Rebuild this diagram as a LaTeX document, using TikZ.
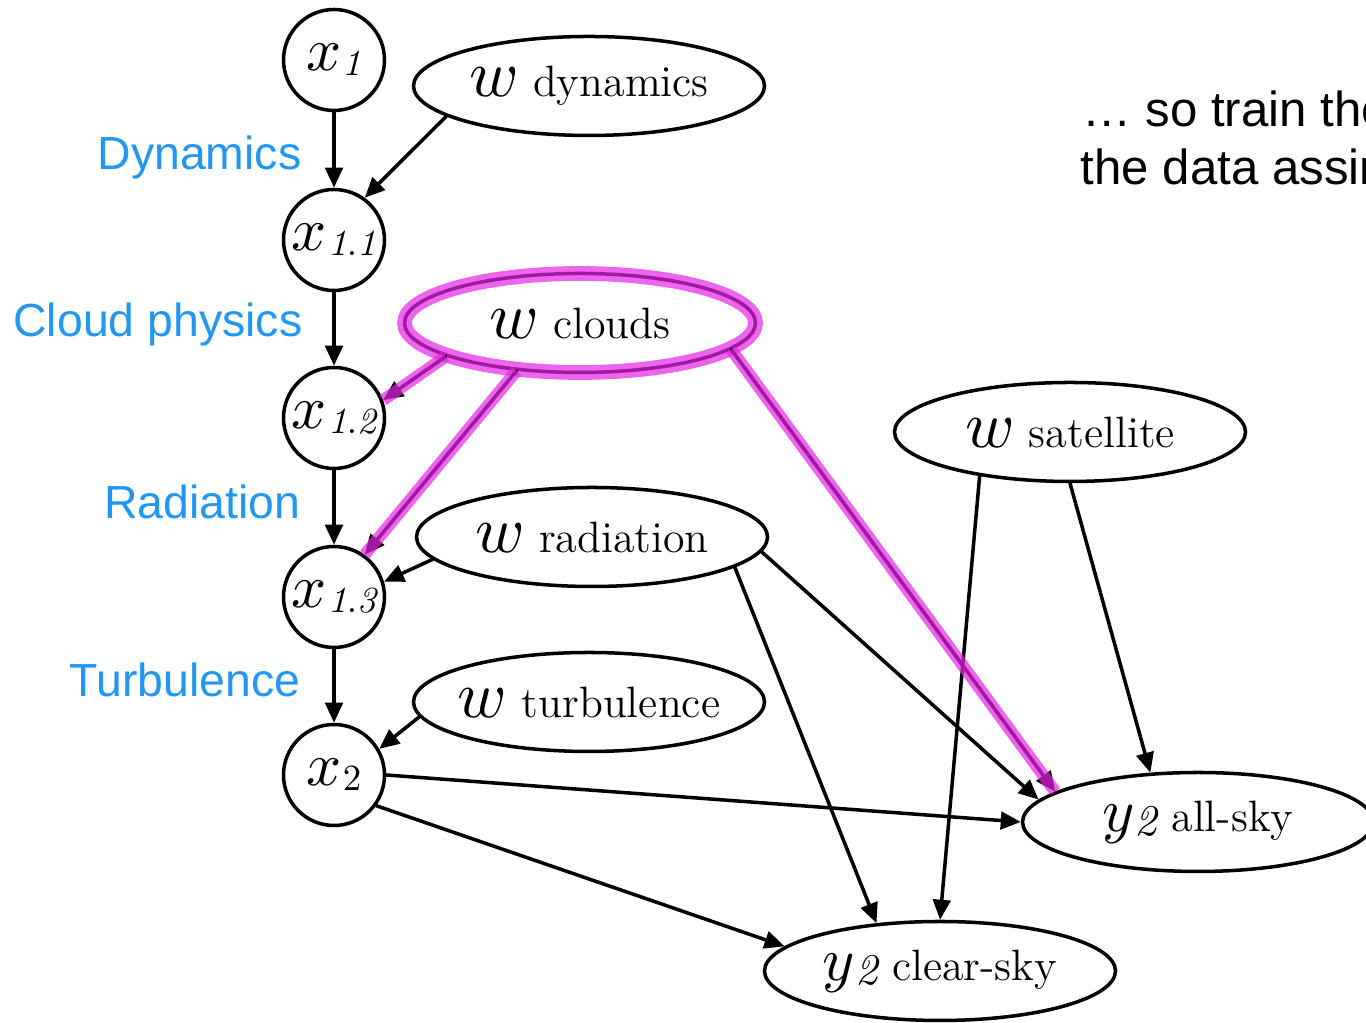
\documentclass[tikz,border=0pt]{standalone}
\usepackage{amsmath,amssymb}
\usepackage{graphicx}
\usepackage{fontspec}
\usepackage{tikz}
\usetikzlibrary{arrows.meta,shapes.geometric}
\usepackage{xcolor}
\newfontfamily\labelfont{Liberation Sans}
\definecolor{phaseblue}{RGB}{33,150,243}
\definecolor{hlmagenta}{RGB}{228,36,228}
\newcommand{\xlab}[1]{\scalebox{1.75}{$x$}\kern0.3pt\raisebox{-0.35ex}{\scalebox{1.05}{$#1$}}}
\newcommand{\wlab}[1]{\makebox[0pt]{\scalebox{1.9}{$w$}{\fontsize{12.5}{14}\selectfont\ #1}}}
\newcommand{\ylab}[1]{\makebox[0pt]{\scalebox{1.75}{$y$}\raisebox{-0.3ex}{\scalebox{1.25}{$\mathit{2}$}}{\fontsize{12.5}{14}\selectfont\ #1}}}

\begin{document}
\begin{tikzpicture}[>={Triangle[length=2mm,width=1.75mm]},line cap=round,
  var/.style={circle,draw,line width=1pt,minimum size=1.01cm,inner sep=0pt},
  wnode/.style={ellipse,draw,line width=1pt,minimum width=3.51cm,minimum height=0.99cm,inner sep=0pt},
  phase/.style={anchor=base east,inner sep=0pt,text=phaseblue,font=\labelfont\fontsize{13.2}{15}\selectfont},
  note/.style={anchor=base west,inner sep=0pt,font=\labelfont\fontsize{14}{16}\selectfont},
  edge/.style={->,line width=1pt},
  hl/.style={postaction={draw=hlmagenta,draw opacity=0.7,line width=3.4pt,line cap=butt,-}},
  hlring/.style={postaction={draw=hlmagenta,draw opacity=0.7,line width=4.2pt}}]
\useasboundingbox (0,0) rectangle (13.66,10.23);
\clip (0,0) rectangle (13.66,10.23);

% model state, step by step
\node[var] (x1) at (3.34,9.63) {\xlab{\mathit{1}}};
\node[var] (x11) at (3.34,7.83) {\xlab{\mathit{1.1}}};
\node[var] (x12) at (3.34,6.05) {\xlab{\mathit{1.2}}};
\node[var] (x13) at (3.34,4.26) {\xlab{\mathit{1.3}}};
\node[var] (x2) at (3.34,2.48) {\xlab{2}};

\node[phase] (ldyn) at (3.02,8.53) {Dynamics};
\node[phase] (lcld) at (3.03,6.86) {Cloud physics};
\node[phase] (lrad) at (3.01,5.04) {Radiation};
\node[phase] (lturb) at (3.01,3.26) {Turbulence};

% parameters
\node[wnode] (wdyn) at (5.89,9.37) {\wlab{dynamics}};
\node[wnode,hlring] (wcld) at (5.80,7.00) {\wlab{clouds}};
\node[wnode] (wrad) at (5.92,4.86) {\wlab{radiation}};
\node[wnode] (wturb) at (5.89,3.21) {\wlab{turbulence}};
\node[wnode] (wsat) at (10.70,5.91) {\wlab{satellite}};

% observations
\node[wnode] (yall) at (11.98,2.01) {\ylab{all-sky}};
\node[wnode] (yclr) at (9.40,0.52) {\ylab{clear-sky}};

\node[note] (txt1) at (10.82,8.96) {… so train the};
\node[note] (txt2) at (10.80,8.38) {the data assim};

\draw[edge] (x1) -- (x11);
\draw[edge] (x11) -- (x12);
\draw[edge] (x12) -- (x13);
\draw[edge] (x13) -- (x2);
\draw[edge] (wdyn.192) -- (x11.54);
\draw[edge] (wrad.188) -- (x13.17);
\draw[edge] (wturb.185) -- (x2.30);
\draw[edge] (wrad.355) -- (yall.172);
\draw[edge] (wrad.348) -- (yclr.143);
\draw[edge] (wsat.206) -- (yclr.north);
\draw[edge] (wsat.south) -- (yall.134);
\draw[edge] (x2.east) -- (yall.west);
\draw[edge] (x2.324) -- (yclr.171);

% highlighted cloud links
\draw[edge,hl] (wcld.194) -- (x12.20);
\draw[edge,hl] (wcld.217) -- (x13.54);
\draw[edge,hl] (wcld.350) -- (yall.168);
\end{tikzpicture}
\end{document}
